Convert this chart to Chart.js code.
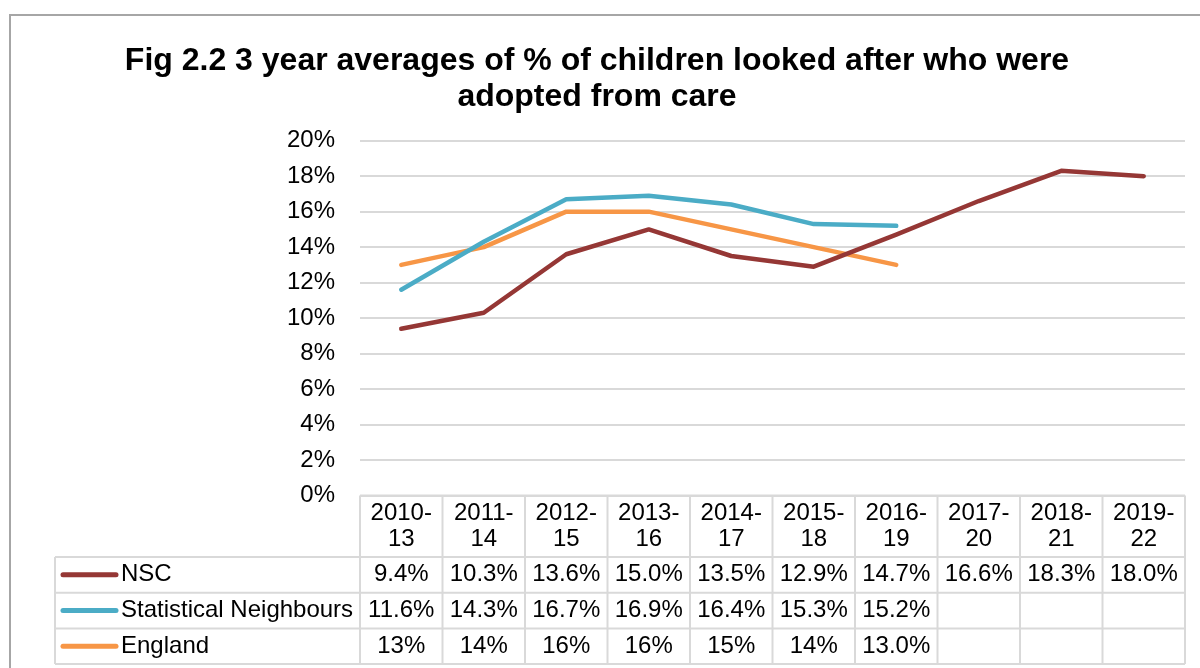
<!DOCTYPE html>
<html>
<head>
<meta charset="utf-8">
<script src="https://cdn.jsdelivr.net/npm/chart.js@4.4.1/dist/chart.umd.min.js"></script>
<style>
  body { margin: 0; background: #fff; }
  canvas { display: block; }
</style>
</head>
<body>
<canvas id="chart" width="1200" height="668"></canvas>
<script>
// Periodos de 3 años y valores (%) de cada serie
const periods = ['2010-13', '2011-14', '2012-15', '2013-16', '2014-17', '2015-18', '2016-19', '2017-20', '2018-21', '2019-22'];
const nsc = [9.4, 10.3, 13.6, 15.0, 13.5, 12.9, 14.7, 16.6, 18.3, 18.0];
const statNeighbours = [11.6, 14.3, 16.7, 16.9, 16.4, 15.3, 15.2, null, null, null];
const england = [13, 14, 16, 16, 15, 14, 13.0, null, null, null];
// decimales que muestra la tabla para cada punto de England
const englandDecimals = [0, 0, 0, 0, 0, 0, 1];
const yTicks = [0, 2, 4, 6, 8, 10, 12, 14, 16, 18, 20];

const FONT = "'Liberation Sans', Arial, sans-serif";

const series = [
  { label: 'NSC', data: nsc, color: '#953735', dec: nsc.map(() => 1) },
  { label: 'Statistical Neighbours', data: statNeighbours, color: '#4bacc6', dec: statNeighbours.map(() => 1) },
  { label: 'England', data: england, color: '#f79646', dec: englandDecimals }
];

const fmt = (v, d) => v === null || v === undefined ? '' : v.toFixed(d) + '%';

// Marco gris alrededor del grafico
const framePlugin = {
  id: 'frame',
  beforeDraw(chart) {
    const ctx = chart.ctx;
    ctx.save();
    ctx.fillStyle = '#fff';
    ctx.fillRect(0, 0, chart.width, chart.height);
    ctx.strokeStyle = '#a6a6a6';
    ctx.lineWidth = 2;
    ctx.strokeRect(10, 15, 1400, 900);
    ctx.restore();
  }
};

// Tabla de datos debajo del area del grafico, alineada con la escala x
const tablePlugin = {
  id: 'dataTable',
  afterDraw(chart) {
    const { ctx, chartArea, scales: { x } } = chart;
    const step = x.getPixelForValue(1) - x.getPixelForValue(0);
    const left = chartArea.left;
    const right = chartArea.right;
    const top = chartArea.bottom;
    const headerBottom = top + 61.5;
    const rowH = 35.7;
    const tableLeft = 55;
    const bottom = headerBottom + rowH * series.length;

    ctx.save();
    ctx.strokeStyle = '#d9d9d9';
    ctx.lineWidth = 2;

    // lineas horizontales
    ctx.beginPath();
    ctx.moveTo(left, top);
    ctx.lineTo(right, top);
    for (let r = 0; r <= series.length; r++) {
      const y = headerBottom + r * rowH;
      ctx.moveTo(tableLeft, y);
      ctx.lineTo(right, y);
    }
    // lineas verticales
    for (let i = 0; i <= periods.length; i++) {
      const xp = x.getPixelForValue(0) - step / 2 + i * step;
      ctx.moveTo(xp, top);
      ctx.lineTo(xp, bottom);
    }
    ctx.moveTo(tableLeft, headerBottom);
    ctx.lineTo(tableLeft, bottom);
    ctx.stroke();

    ctx.fillStyle = '#000';
    ctx.font = '24px ' + FONT;
    ctx.textBaseline = 'middle';
    ctx.textAlign = 'center';

    // encabezados en dos lineas
    periods.forEach((p, i) => {
      const cx = x.getPixelForValue(i);
      const parts = p.split('-');
      ctx.fillText(parts[0] + '-', cx, top + 17.5);
      ctx.fillText(parts[1], cx, top + 44);
    });

    // filas con clave de color y valores
    series.forEach((s, r) => {
      const cy = headerBottom + r * rowH + rowH / 2;
      ctx.strokeStyle = s.color;
      ctx.lineWidth = 5;
      ctx.lineCap = 'round';
      ctx.beginPath();
      ctx.moveTo(63, cy);
      ctx.lineTo(116, cy);
      ctx.stroke();

      ctx.textAlign = 'left';
      ctx.fillText(s.label, 121, cy);
      ctx.textAlign = 'center';
      s.data.forEach((v, i) => {
        ctx.fillText(fmt(v, s.dec[i]), x.getPixelForValue(i), cy);
      });
    });
    ctx.restore();
  }
};

const config = {
  type: 'line',
  data: {
    labels: periods,
    datasets: series.map((s) => ({
      label: s.label,
      data: s.data,
      borderColor: s.color,
      backgroundColor: s.color,
      borderWidth: 4.5,
      borderJoinStyle: 'round',
      borderCapStyle: 'round',
      pointRadius: 0,
      pointHoverRadius: 0,
      tension: 0,
      fill: false,
      spanGaps: false
    }))
  },
  options: {
    responsive: false,
    animation: false,
    layout: {
      padding: { top: 14, left: 9, right: 15, bottom: 172.5 }
    },
    plugins: {
      legend: { display: false },
      tooltip: { enabled: false },
      title: {
        display: true,
        text: ['Fig 2.2 3 year averages of % of children looked after who were', 'adopted from care'],
        color: '#000',
        font: { family: FONT, size: 32, weight: 'bold', lineHeight: 1.125 },
        padding: { top: 29.2, bottom: 25.5 }
      }
    },
    scales: {
      x: {
        display: false,
        offset: true
      },
      y: {
        min: 0,
        max: 20,
        afterFit: (scale) => { scale.width = 351; },
        afterBuildTicks: (scale) => { scale.ticks = yTicks.map((v) => ({ value: v })); },
        border: { display: false },
        grid: { color: '#d9d9d9', lineWidth: 2, drawTicks: false },
        ticks: {
          color: '#000',
          padding: 25,
          font: { family: FONT, size: 24 },
          callback: (v) => v + '%'
        }
      }
    }
  },
  plugins: [framePlugin, tablePlugin]
};

new Chart(document.getElementById('chart'), config);
</script>
</body>
</html>
